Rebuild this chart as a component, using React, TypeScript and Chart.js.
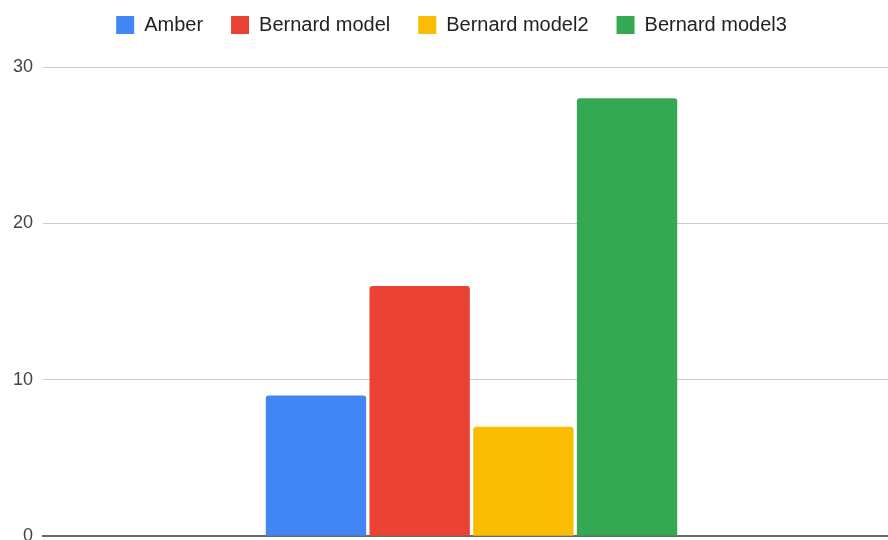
import React, { useEffect, useRef } from "react";
import { Chart, registerables } from "chart.js";

Chart.register(...registerables);

const categories = [""];
const seriesNames = ["Amber", "Bernard model", "Bernard model2", "Bernard model3"];
const amberValues = [9];
const bernardValues = [16];
const bernard2Values = [7];
const bernard3Values = [28];
const seriesColors = ["#4285F4", "#EA4335", "#FBBC04", "#34A853"];
const yTicks = [0, 10, 20, 30];

const FONT = "'Liberation Sans', Arial, sans-serif";

export default function App() {
  const ref = useRef<HTMLCanvasElement | null>(null);

  useEffect(() => {
    if (!ref.current) return;
    const values = [amberValues, bernardValues, bernard2Values, bernard3Values];
    const legendSpacer = {
      id: "legendSpacer",
      beforeInit(chart: any) {
        const origFit = chart.legend.fit;
        chart.legend.fit = function () {
          origFit.bind(this)();
          this.height += 22;
        };
      },
    };
    const chart = new Chart(ref.current, {
      type: "bar",
      data: {
        labels: categories,
        datasets: seriesNames.map((name, i) => ({
          label: name,
          data: values[i],
          backgroundColor: seriesColors[i],
          borderWidth: 0,
          borderRadius: 3,
          categoryPercentage: 0.484,
          barPercentage: 0.968,
        })),
      },
      options: {
        animation: false,
        responsive: false,
        maintainAspectRatio: false,
        layout: { padding: { left: 3, right: 0, top: -13, bottom: 0 } },
        plugins: {
          legend: {
            position: "top",
            align: "center",
            labels: {
              boxWidth: 18,
              boxHeight: 18,
              padding: 28,
              color: "#222",
              font: { family: FONT, size: 20 },
            },
          },
          tooltip: { enabled: false },
        },
        scales: {
          x: {
            offset: true,
            grid: { display: false, drawTicks: false },
            ticks: { display: false },
            border: { display: true, color: "#666", width: 2 },
          },
          y: {
            min: 0,
            max: 30,
            afterBuildTicks(scale: any) {
              scale.ticks = yTicks.map((v) => ({ value: v }));
            },
            grid: { color: "#cccccc", lineWidth: 1, drawTicks: false },
            border: { display: false },
            ticks: {
              padding: 10,
              color: "#444",
              font: { family: FONT, size: 18 },
            },
          },
        },
      },
      plugins: [legendSpacer],
    });
    return () => chart.destroy();
  }, []);

  return (
    <div
      style={{
        position: "fixed",
        left: 0,
        top: 0,
        width: 888,
        height: 540,
        overflow: "hidden",
        background: "#fff",
      }}
    >
      <canvas ref={ref} width={900} height={557} style={{ display: "block" }} />
    </div>
  );
}
